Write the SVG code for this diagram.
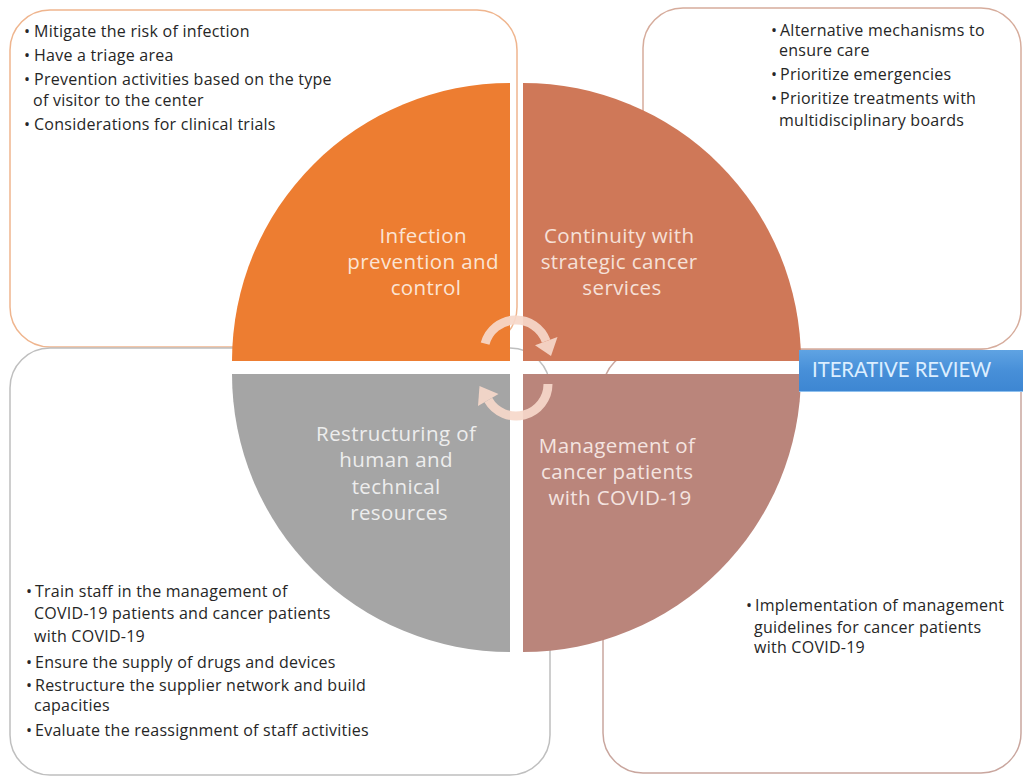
<svg xmlns="http://www.w3.org/2000/svg" width="1023" height="779" viewBox="0 0 1023 779">
  <defs>
    <linearGradient id="barFill" x1="0" y1="0" x2="0" y2="1">
      <stop offset="0" stop-color="#5FA3E3"/>
      <stop offset="0.5" stop-color="#478FD8"/>
      <stop offset="1" stop-color="#3D86D2"/>
    </linearGradient>
    <style>
      .box { fill: #FFFFFF; stroke-width: 1.5; }
      .bullet { font-family: "Open Sans", Lato, sans-serif; font-size: 16px; letter-spacing: 0.25px; fill: #262626; }
      .label { font-family: "Open Sans", Lato, sans-serif; font-size: 20.5px; letter-spacing: 0.4px; text-anchor: middle; }
      .cycle { fill: none; stroke: #F6D8CA; stroke-width: 9; opacity: 0.92; }
      .cycleHead { fill: #F6D8CA; opacity: 0.92; }
    </style>
  </defs>

  <rect width="1023" height="779" fill="#FFFFFF"/>

  <!-- outer text panels -->
  <g id="panel-infection">
    <rect class="box" x="10" y="10" width="507" height="337" rx="40" stroke="#EFB58E"/>
    <text class="bullet">
      <tspan x="24" y="37">•</tspan><tspan x="34">Mitigate the risk of infection</tspan>
      <tspan x="24" y="61">•</tspan><tspan x="34">Have a triage area</tspan>
      <tspan x="24" y="85">•</tspan><tspan x="34">Prevention activities based on the type</tspan>
      <tspan x="33" y="106">of visitor to the center</tspan>
      <tspan x="24" y="130">•</tspan><tspan x="34">Considerations for clinical trials</tspan>
    </text>
  </g>

  <g id="panel-continuity">
    <rect class="box" x="643" y="8" width="378" height="341" rx="40" stroke="#D6AC9C"/>
    <text class="bullet">
      <tspan x="771" y="36">•</tspan><tspan x="780">Alternative mechanisms to</tspan>
      <tspan x="779" y="56">ensure care</tspan>
      <tspan x="771" y="80">•</tspan><tspan x="780">Prioritize emergencies</tspan>
      <tspan x="771" y="104">•</tspan><tspan x="780">Prioritize treatments with</tspan>
      <tspan x="779" y="126">multidisciplinary boards</tspan>
    </text>
  </g>

  <g id="panel-resources">
    <rect class="box" x="10" y="348" width="540" height="427" rx="40" stroke="#BFBFBF"/>
    <text class="bullet">
      <tspan x="26" y="597">•</tspan><tspan x="35">Train staff in the management of</tspan>
      <tspan x="34" y="619">COVID-19 patients and cancer patients</tspan>
      <tspan x="34" y="642">with COVID-19</tspan>
      <tspan x="26" y="668">•</tspan><tspan x="35">Ensure the supply of drugs and devices</tspan>
      <tspan x="26" y="691">•</tspan><tspan x="35">Restructure the supplier network and build</tspan>
      <tspan x="34" y="711">capacities</tspan>
      <tspan x="26" y="736">•</tspan><tspan x="35">Evaluate the reassignment of staff activities</tspan>
    </text>
  </g>

  <g id="panel-management">
    <rect class="box" x="603" y="350" width="418" height="423" rx="40" stroke="#C9A69E"/>
    <text class="bullet">
      <tspan x="746" y="611">•</tspan><tspan x="755">Implementation of management</tspan>
      <tspan x="754" y="633">guidelines for cancer patients</tspan>
      <tspan x="754" y="653">with COVID-19</tspan>
    </text>
  </g>

  <!-- central four-quadrant circle -->
  <g id="quadrant-infection">
    <path d="M510,361 L232,361 A278,278 0 0 1 510,83 Z" fill="#ED7D31"/>
    <text class="label" fill="#FBE4D5">
      <tspan x="426" y="243">Infection</tspan>
      <tspan x="426" y="269">prevention and</tspan>
      <tspan x="426" y="295">control</tspan>
    </text>
  </g>

  <g id="quadrant-continuity">
    <path d="M523,361 L523,83 A278,278 0 0 1 801,361 Z" fill="#CF7858"/>
    <text class="label" fill="#F6E1D8">
      <tspan x="622" y="243">Continuity with</tspan>
      <tspan x="622" y="269">strategic cancer</tspan>
      <tspan x="622" y="295">services</tspan>
    </text>
  </g>

  <g id="quadrant-resources">
    <path d="M510,374 L510,652 A278,278 0 0 1 232,374 Z" fill="#A5A5A5"/>
    <text class="label" fill="#EDEDED">
      <tspan x="399" y="441">Restructuring of</tspan>
      <tspan x="399" y="467">human and</tspan>
      <tspan x="399" y="494">technical</tspan>
      <tspan x="399" y="520">resources</tspan>
    </text>
  </g>

  <g id="quadrant-management">
    <path d="M523,374 L801,374 A278,278 0 0 1 523,652 Z" fill="#BA857B"/>
    <text class="label" fill="#F4E4E0">
      <tspan x="620" y="453">Management of</tspan>
      <tspan x="620" y="479">cancer patients</tspan>
      <tspan x="620" y="505">with COVID-19</tspan>
    </text>
  </g>

  <!-- review cycle arrows -->
  <g id="connectors">
    <path class="cycle" d="M485.1,343.7 A32,32 0 0 1 546.1,341.1"/>
    <polygon class="cycleHead" points="557.5,337 535,345.3 551,356"/>
    <path class="cycle" d="M548,384 A32,32 0 0 1 488.3,400"/>
    <polygon class="cycleHead" points="478,406 498.5,394 479.5,386"/>
  </g>

  <!-- review banner -->
  <g id="iterative-review">
    <rect x="799" y="350" width="224" height="42" fill="url(#barFill)"/>
    <line x1="799" y1="391.5" x2="1023" y2="391.5" stroke="#8EC0EE" stroke-width="1"/>
    <text x="812" y="377" font-family="Lato, 'Open Sans', sans-serif" font-size="20.3px" fill="#DCEEFF">ITERATIVE REVIEW</text>
  </g>
</svg>
